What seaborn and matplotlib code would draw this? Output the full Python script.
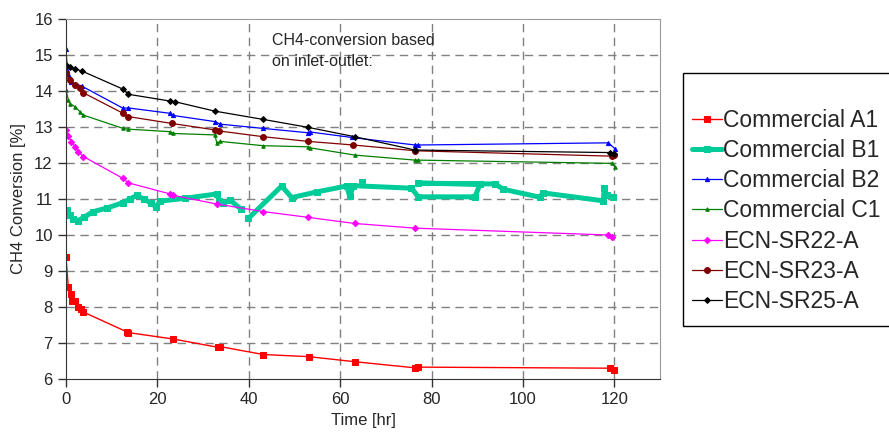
import matplotlib
matplotlib.use("Agg")
import matplotlib.pyplot as plt
import matplotlib.patches as mpatches
import pandas as pd
import seaborn as sns

# Commercial A1
time_a1 = [0, 0.5, 1.0, 1.4, 2.0, 2.7, 3.2, 3.8, 13.3, 13.6, 23.5, 33.3, 33.7,
           43.2, 53.2, 63.2, 76.4, 77.0, 119.0, 120.0]
conv_a1 = [9.38, 8.55, 8.36, 8.18, 8.18, 8.0, 7.94, 7.86, 7.31, 7.29, 7.11, 6.88, 6.9,
           6.68, 6.62, 6.48, 6.31, 6.33, 6.3, 6.25]

# Commercial B1 (several pieces, the data are not ordered in time)
time_b1 = [0.3, 0.8, 1.6, 2.7, 4.0, 6.0, 9.0, 12.5, 14.0, 15.5, 17.0, 18.7, 19.8, 20.5,
           26.0, 33.0, 33.5, 34.4, 35.9, 38.4,
           39.9, 47.2, 49.4, 55.0, 61.4, 62.1, 62.9, 75.6, 77.1, 89.5, 90.6, 77.1, 90.6,
           93.9, 95.7, 103.7, 104.4, 117.6, 117.8, 118.3, 119.8,
           64.7]
conv_b1 = [10.69, 10.55, 10.44, 10.4, 10.5, 10.65, 10.75, 10.9, 11.0, 11.1, 11.0, 10.88, 10.77, 10.94,
           11.02, 11.14, 10.95, 10.88, 10.97, 10.71,
           10.46, 11.36, 11.04, 11.2, 11.36, 11.08, 11.37, 11.3, 11.06, 11.06, 11.41, 11.44, 11.42,
           11.42, 11.27, 11.05, 11.17, 10.95, 11.31, 11.1, 11.06,
           11.48]
piece_b1 = [0] * 20 + [1] * 21 + [2]

# Commercial B2
time_b2 = [0, 0.3, 0.6, 1.2, 2.0, 3.4, 12.5, 13.6, 22.8, 23.5, 32.6, 33.7, 43.2,
           53.0, 53.5, 62.5, 76.4, 77.1, 118.7, 120.1]
conv_b2 = [15.16, 14.58, 14.42, 14.26, 14.2, 14.14, 13.52, 13.53, 13.38, 13.32, 13.15, 13.08, 12.96,
           12.84, 12.86, 12.71, 12.5, 12.5, 12.56, 12.4]

# Commercial C1
time_c1 = [0, 0.5, 0.9, 2.0, 3.1, 3.8, 12.5, 13.6, 22.8, 23.5, 32.6, 33.0, 33.7, 43.2,
           53.0, 53.5, 63.2, 76.4, 77.1, 119.4, 120.1]
conv_c1 = [14.03, 13.75, 13.65, 13.56, 13.42, 13.33, 12.96, 12.94, 12.87, 12.82, 12.78, 12.55, 12.6, 12.48,
           12.45, 12.42, 12.22, 12.08, 12.08, 11.99, 11.9]

# ECN-SR22-A
time_sr22 = [0, 0.5, 1.2, 2.0, 2.7, 3.8, 12.5, 13.6, 22.8, 23.5, 33.0, 43.2, 53.0,
             63.2, 76.4, 118.7, 119.4]
conv_sr22 = [12.92, 12.76, 12.59, 12.45, 12.31, 12.18, 11.57, 11.45, 11.14, 11.1, 10.86, 10.65, 10.49,
             10.32, 10.19, 10.0, 9.94]

# ECN-SR23-A
time_sr23 = [0, 0.9, 2.0, 3.1, 3.8, 12.5, 13.6, 23.1, 32.6, 33.5, 43.2, 53.0, 62.9,
             76.4, 119.4, 120.0]
conv_sr23 = [14.49, 14.3, 14.17, 14.07, 13.95, 13.38, 13.29, 13.1, 12.92, 12.89, 12.73, 12.6, 12.5,
             12.34, 12.19, 12.22]

# ECN-SR25-A
time_sr25 = [0, 0.8, 2.0, 3.4, 12.5, 13.6, 22.8, 23.9, 32.6, 43.2, 53.0, 63.2,
             76.4, 119.0, 120.0]
conv_sr25 = [14.72, 14.68, 14.61, 14.56, 14.05, 13.91, 13.72, 13.7, 13.44, 13.21, 12.99, 12.73,
             12.36, 12.29, 12.24]

x_ticks = [0, 20, 40, 60, 80, 100, 120]
y_ticks = [6, 7, 8, 9, 10, 11, 12, 13, 14, 15, 16]


def main():
    sns.set_style("ticks")
    plt.rcParams['font.family'] = ['Liberation Sans', 'DejaVu Sans']

    fig = plt.figure(figsize=(8.89, 4.44), dpi=100)
    ax = fig.add_axes([66 / 889, 65 / 444, 594 / 889, 360 / 444])

    series = [
        ("Commercial A1", time_a1, conv_a1, None, "#FF0000", "s", 4.5, 1.0),
        ("Commercial B1", time_b1, conv_b1, piece_b1, "#00CC99", "s", 4.5, 3.6),
        ("Commercial B2", time_b2, conv_b2, None, "#0000FF", "^", 3, 0.9),
        ("Commercial C1", time_c1, conv_c1, None, "#008000", "^", 2.5, 0.9),
        ("ECN-SR22-A", time_sr22, conv_sr22, None, "#FF00FF", "D", 3.2, 0.9),
        ("ECN-SR23-A", time_sr23, conv_sr23, None, "#800000", "o", 4.2, 0.9),
        ("ECN-SR25-A", time_sr25, conv_sr25, None, "#000000", "D", 3, 0.9),
    ]

    for name, t, c, piece, color, marker, ms, lw in series:
        df = pd.DataFrame({"t": t, "c": c})
        df["piece"] = piece if piece is not None else 0
        first = True
        for _, part in df.groupby("piece", sort=False):
            sns.lineplot(data=part, x="t", y="c", sort=False, estimator=None, ax=ax,
                         color=color, marker=marker, markersize=ms, linewidth=lw,
                         markeredgecolor=color, label=name if first else None)
            first = False

    ax.set_xlim(0, 130)
    ax.set_ylim(6, 16)
    ax.set_xticks(x_ticks)
    ax.set_yticks(y_ticks)
    ax.tick_params(axis="both", labelsize=12, length=6, width=1, color="#333333", direction="out")
    ax.set_xlabel("Time [hr]", fontsize=12)
    ax.set_ylabel("CH4 Conversion [%]", fontsize=12, labelpad=6)

    for yv in y_ticks[1:-1]:
        ax.axhline(yv, color="#808080", lw=1, ls=(0, (6, 4)), zorder=0)
    for xv in x_ticks[1:]:
        ax.axvline(xv, color="#808080", lw=1, ls=(0, (6, 4)), zorder=0)

    ax.spines["left"].set_color("#333333")
    ax.spines["bottom"].set_color("#333333")
    for s in ["top", "right"]:
        ax.spines[s].set_visible(True)
        ax.spines[s].set_color("#999999")
    ax.text(0.346, 0.96, "CH4-conversion based\non inlet-outlet:", transform=ax.transAxes,
            fontsize=11.5, va="top", ha="left", linespacing=1.45)

    handles, labels = ax.get_legend_handles_labels()
    ax.get_legend().remove()
    fig.legend(handles, labels, loc="upper left", bbox_to_anchor=(683 / 889, 1 - 100 / 444),
               frameon=False, fontsize=16.5, handlelength=1.3, handletextpad=0.05,
               labelspacing=0.31, borderaxespad=0)
    fig.patches.append(mpatches.Rectangle((683 / 889, 118 / 444), 0.4, 253 / 444,
                                          transform=fig.transFigure, fill=False,
                                          edgecolor="black", lw=1))

    fig.savefig("out.png", dpi=100)


if __name__ == "__main__":
    main()
